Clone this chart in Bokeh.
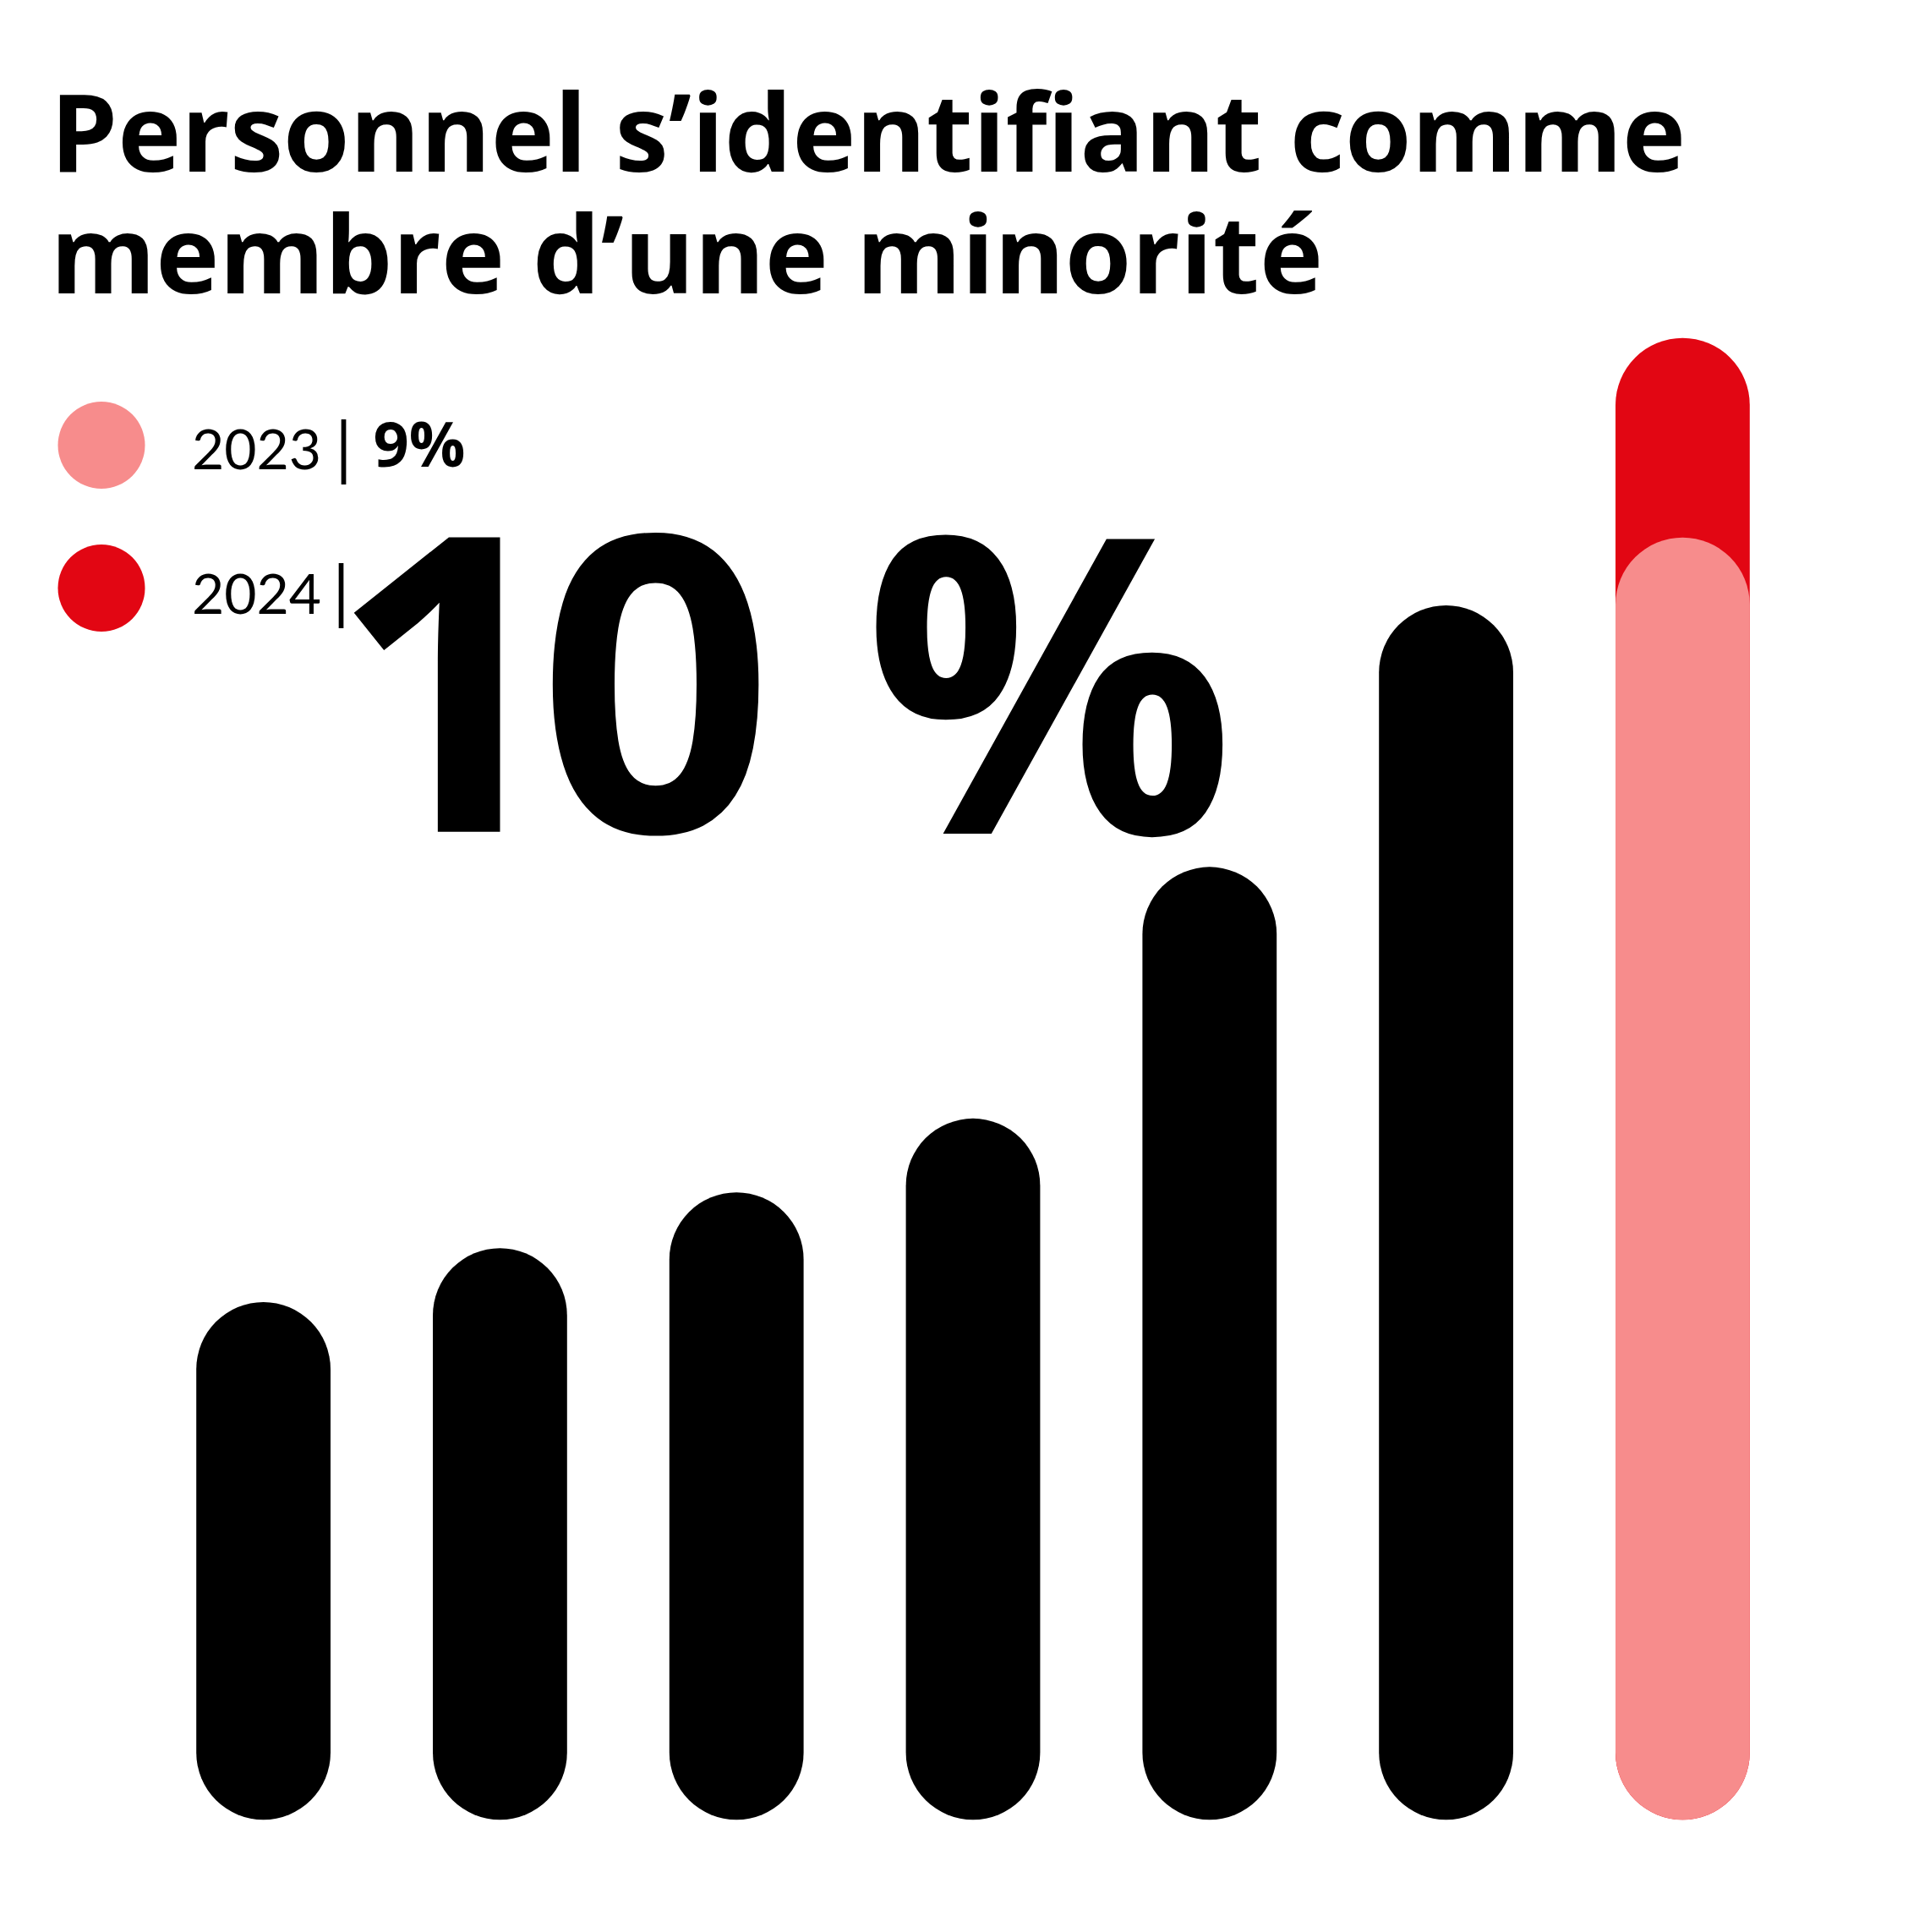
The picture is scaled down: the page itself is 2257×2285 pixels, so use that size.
from bokeh.plotting import figure
from bokeh.models import Range1d, Label, ColumnDataSource
from bokeh.embed import file_html
from bokeh.resources import INLINE

# ---- data ----
positions = [0, 1, 2, 3, 4, 5]          # earlier bars (black)
prior_values = [5.17, 5.44, 5.72, 6.09, 7.35, 8.66]
last_position = 6
value_2023 = 9
value_2024 = 10
baseline = 3.25
legend_years = ["2023", "2024"]
legend_values = ["9%", "10 %"]
title_lines = ["Personnel s\u2019identifiant comme", "membre d\u2019une minorit\u00e9"]

BLACK = "#000000"
RED = "#E20613"
PINK = "#F78C8C"

W, H = 2240, 2268
PX_X = 279.8     # pixels per category step
PX_Y = 236.1     # pixels per percentage point
x0 = -311.1 / PX_X
y_top = 10 + 478.6 / PX_Y

p = figure(width=W, height=H, output_backend="svg", toolbar_location=None,
           x_range=Range1d(x0, x0 + W / PX_X),
           y_range=Range1d(y_top - H / PX_Y, y_top),
           x_axis_location=None, y_axis_location=None,
           min_border=0, min_border_left=0, min_border_right=0,
           min_border_top=0, min_border_bottom=0)
p.grid.visible = False
p.outline_line_color = None
p.background_fill_color = "white"
p.border_fill_color = "white"

BAR_W = 158.8

src = ColumnDataSource(dict(x=positions, y0=[baseline] * len(positions), y1=prior_values))
p.segment(x0="x", y0="y0", x1="x", y1="y1", source=src, line_color=BLACK,
          line_width=BAR_W, line_cap="round")
p.segment(x0=[last_position], y0=[baseline], x1=[last_position], y1=[value_2024],
          line_color=RED, line_width=BAR_W, line_cap="round")
p.segment(x0=[last_position], y0=[baseline], x1=[last_position], y1=[value_2023],
          line_color=PINK, line_width=BAR_W, line_cap="round")


def to_data(fx, fy):
    return x0 + fx / PX_X, y_top - fy / PX_Y


# legend dots
lx1, ly1 = to_data(119.5, 526)
lx2, ly2 = to_data(119.5, 695)
p.scatter(x=[lx1, lx2], y=[ly1, ly2], size=103, marker="circle",
          fill_color=[PINK, RED], line_color=None)


def lab(text, fx, fy, size, bold=False, font="Lato"):
    p.add_layout(Label(x=fx, y=H - fy, x_units="screen", y_units="screen",
                       text=text, text_font=font, text_font_size=f"{size}px",
                       text_font_style="bold" if bold else "normal",
                       text_baseline="alphabetic", text_align="left",
                       text_color=BLACK))


# title
lab(title_lines[0], 59, 152.7, 127, bold=True, font="Open Sans")
lab(title_lines[1], 59, 297.0, 127, bold=True, font="Open Sans")

# legend texts
lab(legend_years[0], 226.5, 531.3, 66)
lab("|", 395.7, 526, 82)
lab(legend_values[0], 441, 523, 74, bold=True, font="Open Sans")
lab(legend_years[1], 226.5, 701.7, 66)
lab("|", 392.7, 696.4, 82)

# big value (2024)
big = legend_values[1]
lab(big[0], 389.4, 807.9, 488, bold=True, font="Open Sans")
lab(big[1], 635.7, 807.9, 488, bold=True, font="Open Sans")
lab(big[3], 1021, 795.9, 488, bold=True, font="Open Sans")

open("out.html", "w").write(file_html(p, INLINE))
